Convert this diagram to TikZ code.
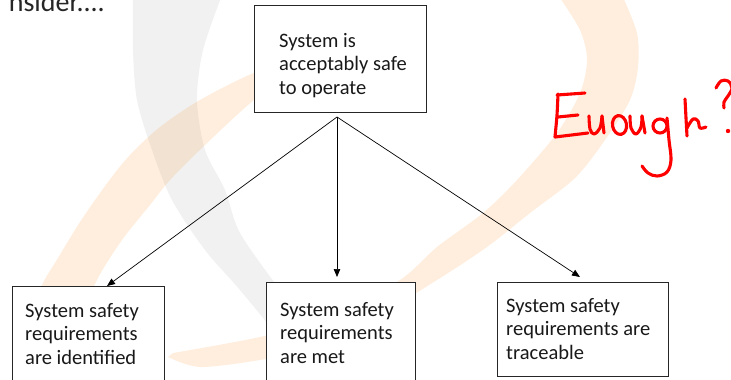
\documentclass[tikz,border=0pt]{standalone}
\usepackage{fontspec}
\setmainfont{Carlito}
\usetikzlibrary{arrows.meta}
\begin{document}
\begin{tikzpicture}[x=1pt,y=-1pt,
  box/.style={draw=black!85, line width=1pt, fill=white, inner sep=0pt, anchor=north west},
  boxtext/.style={anchor=base west, align=left, inner sep=0pt,
    font=\fontsize{20.5}{23.5}\selectfont, text=black!90},
  link/.style={draw=black, line width=0.7pt, -{Triangle[length=8pt,width=6.5pt]}},
  hand/.style={draw=red, line width=3.1pt, line cap=round, line join=round},
  wmgray/.style={fill=black!5.5},
  wmorange/.style={fill=orange, fill opacity=0.13}]
\useasboundingbox (0,0) rectangle (731,380);
\clip (0,0) rectangle (731,380);
\fill[white] (0,0) rectangle (731,380);

% watermark: grey ribbon
\fill[wmgray]
  plot[smooth] coordinates {(133,-5) (133,50) (137,100) (152,150) (172,200) (205,250) (240,290) (280,340) (310,390)}
  -- plot[smooth] coordinates {(365,390) (320,340) (280,290) (240,233) (225,190) (205,150) (197,100) (203,50) (222,-5)}
  -- cycle;

% watermark: left orange arc
\fill[wmorange]
  plot[smooth] coordinates {(300,62) (254,73) (200,100) (160,127) (130,155) (108,182) (80,222) (58,258) (42,285) (30,320) (24,360) (22,390)}
  -- plot[smooth] coordinates {(72,390) (80,325) (97,280) (122,240) (150,205) (170,180) (205,145) (254,100) (300,68)}
  -- cycle;

% watermark: right orange ribbon
\fill[wmorange]
  plot[smooth] coordinates {(622,-5) (637,33) (638,67) (630,100) (605,140) (575,178) (530,213) (487,247) (437,280) (370,320) (300,350) (260,360) (200,367) (168,357)}
  -- plot[smooth] coordinates {(173,353) (260,337) (330,318) (400,280) (437,247) (483,213) (517,180) (557,133) (580,93) (587,60) (580,30) (558,-5)}
  -- cycle;

% heading fragment
\node[anchor=base east, inner sep=0pt, font=\fontsize{28}{30}\selectfont, text=black!85] (lead) at (105,11) {nsider....};

% boxes
\node[box, minimum width=172pt, minimum height=107pt] (goal) at (254,5) {};
\node[box, minimum width=152pt, minimum height=110pt] (ident) at (12,286) {};
\node[box, minimum width=149pt, minimum height=110pt] (met) at (266,282) {};
\node[box, minimum width=171pt, minimum height=94pt] (trace) at (497,282) {};

% box texts, placed by the baseline of their last line
\node[boxtext] (goaltext) at (279,94) {System is\\acceptably safe\\to operate};
\node[boxtext] (identtext) at (25,364) {System safety\\requirements\\are identified};
\node[boxtext] (mettext) at (280,363) {System safety\\requirements\\are met};
\node[boxtext] (tracetext) at (506,359) {System safety\\requirements are\\traceable};

% connectors
\coordinate (fork) at (337,117);
\coordinate (toIdent) at (107,286);
\coordinate (toMet) at (337,277);
\coordinate (toTrace) at (580,277);
\draw[link] (fork) -- (toIdent);
\draw[link] (fork) -- (toMet);
\draw[link] (fork) -- (toTrace);

% handwritten note
\draw[hand] plot[smooth, tension=0.5] coordinates {(558,94) (557,115) (555,137)};
\draw[hand] (557,95) -- (585,93);
\draw[hand] (558,117) -- (578,115);
\draw[hand] (555,137) -- (588,133);
\draw[hand] plot[smooth, tension=0.6] coordinates {(589,116) (590,129) (594,134) (600,128) (602,116)};
\draw[hand] (602,116) -- (604,133);
\draw[hand, rotate around={10:(619.5,125)}] (619.5,125) ellipse [x radius=7, y radius=9.5];
\draw[hand] plot[smooth, tension=0.6] coordinates {(630,116) (631,128) (636,134) (641,127) (642,116)};
\draw[hand] (642,116) -- (645,133);
\draw[hand] (660,126) circle [radius=7];
\draw[hand] plot[smooth, tension=0.6] coordinates {(667,118) (669,140) (671,160) (667,172) (657,176) (648,173) (642,166)};
\draw[hand] plot[smooth, tension=0.5] coordinates {(685,99) (686,118) (687,136)};
\draw[hand] plot[smooth, tension=0.6] coordinates {(687,128) (693,119) (698,121) (700,128) (706,127)};
\draw[hand] plot[smooth, tension=0.6] coordinates {(716,88) (721,81) (728,81) (732,88) (728,96) (724,102) (724,108)};
\fill[red] (728,131) circle [radius=2.2];
\end{tikzpicture}
\end{document}
